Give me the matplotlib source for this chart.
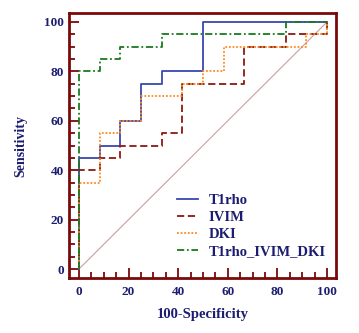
import matplotlib
matplotlib.use('Agg')
import matplotlib.pyplot as plt
from matplotlib.ticker import MultipleLocator

plt.rcParams['font.family'] = 'serif'
plt.rcParams['font.serif'] = ['Liberation Serif', 'DejaVu Serif']

# ROC step points (100-Specificity, Sensitivity)
t1rho_x = [0, 0, 8.33, 8.33, 16.67, 16.67, 25, 25, 33.33, 33.33, 50, 50, 100]
t1rho_y = [0, 45, 45, 50, 50, 60, 60, 75, 75, 80, 80, 100, 100]

ivim_x = [0, 0, 8.33, 8.33, 16.67, 16.67, 33.33, 33.33, 41.67, 41.67, 66.67, 66.67, 83.33, 83.33, 100, 100]
ivim_y = [0, 40, 40, 45, 45, 50, 50, 55, 55, 75, 75, 90, 90, 95, 95, 100]

dki_x = [0, 0, 8.33, 8.33, 16.67, 16.67, 25, 25, 41.67, 41.67, 50, 50, 58.33, 58.33, 91.67, 91.67, 100, 100]
dki_y = [0, 35, 35, 55, 55, 60, 60, 70, 70, 75, 75, 80, 80, 90, 90, 95, 95, 100]

comb_x = [0, 0, 8.33, 8.33, 16.67, 16.67, 33.33, 33.33, 83.33, 83.33, 100]
comb_y = [0, 80, 80, 85, 85, 90, 90, 95, 95, 100, 100]

navy = '#1c1c70'
frame = '#7a0a0a'

fig = plt.figure(figsize=(3.59, 3.33), dpi=100)
ax = fig.add_axes([0.192, 0.165, 0.744, 0.796])

ax.plot([0, 100], [0, 100], color='#c9a0a0', linewidth=0.8)
ax.plot(t1rho_x, t1rho_y, color='#3a48b0', linewidth=1.3, label='T1rho')
ax.plot(ivim_x, ivim_y, color='#8b1a10', linewidth=1.3, linestyle=(0, (4, 2)), label='IVIM')
ax.plot(dki_x, dki_y, color='#ff8a20', linewidth=1.3, linestyle=(0, (1, 1)), label='DKI')
ax.plot(comb_x, comb_y, color='#1a7a20', linewidth=1.3, linestyle=(0, (4, 1.5, 1, 1.5)),
        label='T1rho_IVIM_DKI')

ax.set_xlim(-4, 103.6)
ax.set_ylim(-3.6, 103.6)
ax.xaxis.set_major_locator(MultipleLocator(20))
ax.yaxis.set_major_locator(MultipleLocator(20))
ax.xaxis.set_minor_locator(MultipleLocator(5))
ax.yaxis.set_minor_locator(MultipleLocator(5))

for s in ax.spines.values():
    s.set_color(frame)
    s.set_linewidth(2)

ax.tick_params(which='both', direction='in', color=frame, width=1.3,
               top=False, right=False)
ax.tick_params(which='major', length=7, labelsize=9.5, labelcolor=navy)
ax.tick_params(axis='x', which='major', pad=6)
ax.tick_params(which='minor', length=4)
for lbl in ax.get_xticklabels() + ax.get_yticklabels():
    lbl.set_fontweight('bold')

ax.set_xlabel('100-Specificity', fontsize=10.5, fontweight='bold', color=navy, labelpad=7)
ax.set_ylabel('Sensitivity', fontsize=10, fontweight='bold', color=navy, labelpad=12)

leg = ax.legend(loc='lower right', frameon=False, handlelength=1.45, handletextpad=0.7,
                labelspacing=0.28, bbox_to_anchor=(1.0, 0.035), borderaxespad=0.3,
                prop={'weight': 'bold', 'size': 10.5})
for t in leg.get_texts():
    t.set_color(navy)

fig.savefig('out.png', dpi=100)
